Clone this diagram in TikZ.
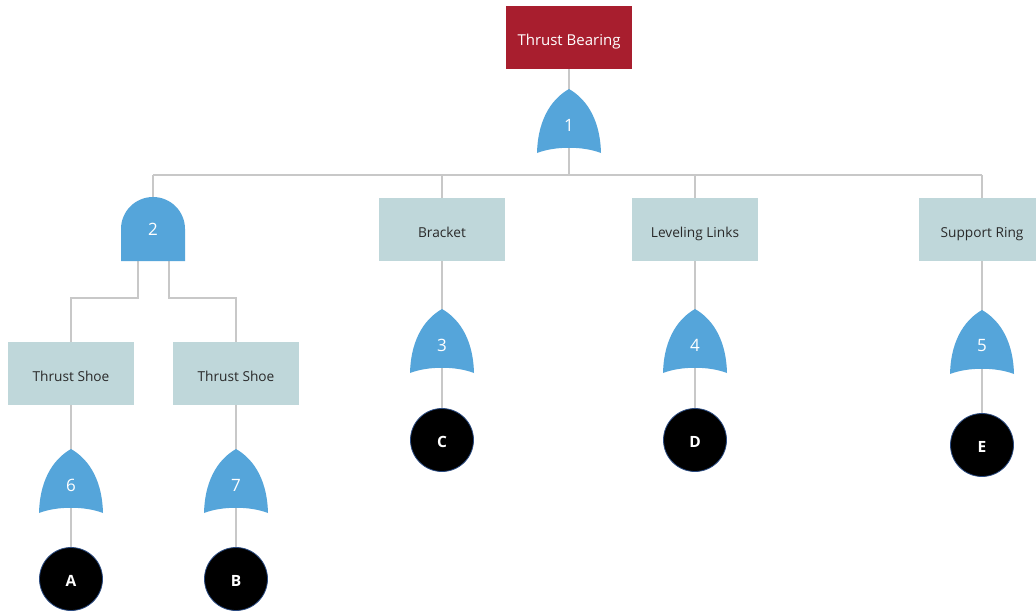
\documentclass[tikz,border=0pt]{standalone}
\usepackage{fontspec}
\setmainfont{Open Sans}
\usetikzlibrary{backgrounds,calc}
\definecolor{tbred}{HTML}{A81E2E}
\definecolor{gateblue}{HTML}{55A5DA}
\definecolor{boxgray}{HTML}{BFD7DA}
\definecolor{linegray}{HTML}{C8C8C8}
\definecolor{txtgray}{HTML}{2A2A2A}
\definecolor{rimblue}{HTML}{2A4A80}
\tikzset{
  topbox/.style={rectangle, fill=tbred, text=white, minimum width=126pt, minimum height=63pt, font=\fontsize{15}{17}\selectfont, inner sep=0pt, text height=19pt, text depth=3pt},
  evbox/.style={rectangle, fill=boxgray, text=txtgray, minimum width=126pt, minimum height=63pt, font=\fontsize{13.7}{16}\selectfont, inner sep=0pt, text height=18pt, text depth=2pt},
  gatelbl/.style={rectangle, minimum size=64pt, inner sep=0pt, text=white, font=\fontsize{17}{19}\selectfont},
  basic/.style={circle, fill=black, draw=rimblue, line width=0.8pt, minimum size=63pt, inner sep=0pt, text=white, font=\bfseries\fontsize{15.5}{17}\selectfont, text height=15pt, text depth=0pt},
  conn/.style={draw=linegray, line width=1.5pt},
  gatefill/.style={fill=gateblue}
}
% OR gate shape around label position (x,y)
\newcommand{\orgateshape}[2]{%
  \fill[gatefill,shift={(#1,#2)}] (0,-36) .. controls (14,-28) and (31,-10) .. (32,28)
     .. controls (14,21) and (-14,21) .. (-32,28)
     .. controls (-31,-10) and (-14,-28) .. cycle;}
\newcommand{\andgateshape}[2]{%
  \fill[gatefill,shift={(#1,#2)}] (-32,32) -- (-32,0) arc[start angle=180, end angle=360, radius=32] -- (32,32) -- cycle;}
\begin{document}
\begin{tikzpicture}[x=1pt,y=-1pt]
\useasboundingbox (0,0) rectangle (1036,613);
\clip (0,0) rectangle (1036,613);

% gate shapes
\orgateshape{569}{125}
\andgateshape{153}{229}
\orgateshape{442}{345}
\orgateshape{695}{345}
\orgateshape{982}{346}
\orgateshape{71}{485}
\orgateshape{236}{485}

% nodes
\node[topbox] (tb) at (569,37.5) {Thrust Bearing};
\node[gatelbl] (g1) at (569,125) {1};
\node[gatelbl] (g2) at (153,229) {2};
\node[evbox] (br) at (442,229.5) {Bracket};
\node[evbox] (ll) at (695,229.5) {Leveling Links};
\node[evbox] (sr) at (982,229.5) {Support Ring};
\node[evbox] (ts1) at (71,373.5) {Thrust Shoe};
\node[evbox] (ts2) at (236,373.5) {Thrust Shoe};
\node[gatelbl] (g3) at (442,345) {3};
\node[gatelbl] (g4) at (695,345) {4};
\node[gatelbl] (g5) at (982,346) {5};
\node[gatelbl] (g6) at (71,485) {6};
\node[gatelbl] (g7) at (236,485) {7};
\node[basic] (C) at (442,440) {C};
\node[basic] (D) at (695,440) {D};
\node[basic] (E) at (982,445) {E};
\node[basic] (A) at (71,579) {A};
\node[basic] (B) at (236,579) {B};

\coordinate (busL) at (153,175);
\coordinate (busR) at (982,175);
\coordinate (j1) at (138,298);
\coordinate (j2) at (169,298);

\begin{scope}[on background layer]
\fill[white] (0,0) rectangle (1036,613);
\draw[conn] (tb) -- (g1.center);
\draw[conn] (g1.center) -- (g1 |- busL);
\draw[conn] (busL) -- (busR);
\draw[conn] (busL) -- (g2.center);
\draw[conn] (br) -- (br |- busL);
\draw[conn] (ll) -- (ll |- busL);
\draw[conn] (sr) -- (busR);
\draw[conn] (g2.center -| j1) -- (j1) -| (ts1);
\draw[conn] (g2.center -| j2) -- (j2) -| (ts2);
\draw[conn] (br) -- (g3.center) -- (C);
\draw[conn] (ll) -- (g4.center) -- (D);
\draw[conn] (sr) -- (g5.center) -- (E);
\draw[conn] (ts1) -- (g6.center) -- (A);
\draw[conn] (ts2) -- (g7.center) -- (B);
\end{scope}
\end{tikzpicture}
\end{document}
